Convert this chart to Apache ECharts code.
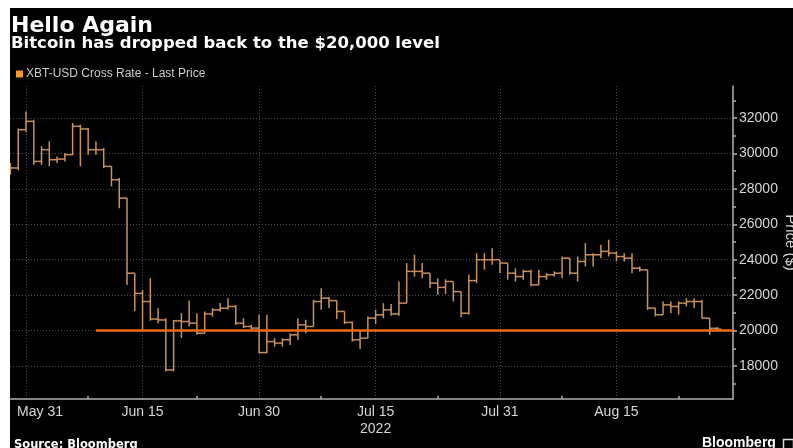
<!DOCTYPE html>
<html><head><meta charset="utf-8">
<script src="https://cdn.jsdelivr.net/npm/echarts@6/dist/echarts.min.js"></script>
<style>
html,body{margin:0;padding:0;background:#fff;width:793px;height:448px;overflow:hidden}
#c{position:absolute;left:10px;top:8px;width:783px;height:440px;background:#000}
</style></head><body><div id="c"></div>
<script>
const SERIES_NAME = 'XBT-USD Cross Rate - Last Price';
const DATES = [
 '2022-05-29','2022-05-30','2022-05-31',
 '2022-06-01','2022-06-02','2022-06-03','2022-06-04','2022-06-05','2022-06-06','2022-06-07','2022-06-08','2022-06-09','2022-06-10',
 '2022-06-11','2022-06-12','2022-06-13','2022-06-14','2022-06-15','2022-06-16','2022-06-17','2022-06-18','2022-06-19','2022-06-20',
 '2022-06-21','2022-06-22','2022-06-23','2022-06-24','2022-06-25','2022-06-26','2022-06-27','2022-06-28','2022-06-29','2022-06-30',
 '2022-07-01','2022-07-02','2022-07-03','2022-07-04','2022-07-05','2022-07-06','2022-07-07','2022-07-08','2022-07-09','2022-07-10',
 '2022-07-11','2022-07-12','2022-07-13','2022-07-14','2022-07-15','2022-07-16','2022-07-17','2022-07-18','2022-07-19','2022-07-20',
 '2022-07-21','2022-07-22','2022-07-23','2022-07-24','2022-07-25','2022-07-26','2022-07-27','2022-07-28','2022-07-29','2022-07-30','2022-07-31',
 '2022-08-01','2022-08-02','2022-08-03','2022-08-04','2022-08-05','2022-08-06','2022-08-07','2022-08-08','2022-08-09','2022-08-10',
 '2022-08-11','2022-08-12','2022-08-13','2022-08-14','2022-08-15','2022-08-16','2022-08-17','2022-08-18','2022-08-19','2022-08-20',
 '2022-08-21','2022-08-22','2022-08-23','2022-08-24','2022-08-25','2022-08-26','2022-08-27','2022-08-28'
];
const OPEN = [
 29000,29180,31340,
 31810,29550,30210,29645,29680,29930,31530,31380,30210,30210,
 29270,28515,27480,23240,22100,21640,20650,20600,17780,20550,
 20510,20420,19850,20940,21170,21260,21360,20420,20230,20140,
 18760,19380,19290,19480,19760,20320,20230,21640,21830,21690,
 21080,20460,19480,19570,20700,20890,21170,20940,21550,23340,
 23340,23240,22680,22440,22770,22200,20980,22820,24000,24000,24000,
 23810,23240,23050,23340,22580,23050,23150,23240,24090,23240,
 23900,24280,24280,24470,24370,24180,24090,23520,23430,21270,
 20890,21450,21360,21550,21640,21640,20700,20130
];
const HIGH = [
 29460,31400,32370,
 31900,30400,30680,29830,30020,31720,31620,31430,30680,30300,
 29270,28610,27480,23240,22300,22960,21260,20700,20600,20980,
 21680,20980,21080,21260,21550,21830,21450,20700,20320,20890,
 20890,19570,19570,19850,20700,20610,21740,22390,21900,21700,
 21080,20510,20040,20790,21170,21550,21500,22770,23810,24280,
 23810,23240,22960,22900,22770,22200,23150,24370,24370,24650,24000,
 23810,23520,23430,23430,23430,23240,23340,24180,24090,24180,
 24940,24370,24840,25130,24470,24370,24370,23620,23430,21270,
 21640,21640,21640,21830,21830,21740,20700,20200
];
const LOW = [
 28800,29050,31200,
 29360,29360,29270,29460,29550,29900,29270,29930,29930,29180,
 28140,26910,22580,21100,20040,20560,20420,17690,17700,19580,
 20230,19760,19850,20790,21080,21170,20320,20140,20040,18720,
 18720,19100,19100,19190,19480,19850,20230,21170,21270,20650,
 20370,19380,18960,19570,20370,20700,20840,20840,21550,23050,
 22960,22400,22020,22070,21640,20750,20890,22680,23430,23710,23240,
 22870,22770,22870,22490,22580,22870,23050,22960,23150,22770,
 23620,23620,24090,24180,23900,23900,23240,23340,21170,20800,
 20890,20980,20890,21360,21270,20700,19760,19950
];
const CLOSE = [
 29180,31340,31810,
 29550,30210,29645,29680,29930,31530,31380,30210,30210,29270,
 28515,27480,23240,22100,21640,20650,20600,17780,20550,20510,
 20420,19850,20940,21170,21260,21360,20420,20230,20140,18760,
 19380,19290,19480,19760,20320,20230,21640,21830,21690,21080,
 20460,19480,19570,20700,20890,21170,20940,21550,23340,23340,
 23240,22680,22440,22770,22200,20980,22820,24000,24000,24000,23810,
 23240,23050,23340,22580,23050,23150,23240,24090,23240,23900,
 24280,24280,24470,24370,24180,24090,23520,23430,21270,20890,
 21450,21360,21550,21640,21640,20700,20130,20080
];
const LEVEL = 20000;
const LEVEL_START = '2022-06-09';
const X_TICKS = ['2022-05-31','2022-06-15','2022-06-30','2022-07-15','2022-07-31','2022-08-15'];
const X_TICK_LABELS = ['May 31','Jun 15','Jun 30','Jul 15\n2022','Jul 31','Aug 15'];
const X_MINOR_TICKS = ['2022-06-08','2022-06-22','2022-07-08','2022-07-23','2022-08-08','2022-08-23'];
const Y_TICKS = [18000,20000,22000,24000,26000,28000,30000,32000];
const Y_MINOR_TICKS = [17000,19000,21000,23000,25000,27000,29000,31000,33000];

const DAY = 86400000;
function toTs(s){ const p = s.split('-'); return Date.UTC(+p[0], +p[1]-1, +p[2]); }
const X_MIN = toTs('2022-05-31') - 2.06 * DAY;
const X_MAX = toTs('2022-08-30');
const Y_MIN = 16138, Y_MAX = 33806;

const BAR_COLOR = '#c8925a';
const ohlc = DATES.map((d, i) => [toTs(d), OPEN[i], HIGH[i], LOW[i], CLOSE[i]]);
const labelMap = {};
X_TICKS.forEach((d, i) => { labelMap[toTs(d)] = X_TICK_LABELS[i]; });

const chart = echarts.init(document.getElementById('c'), null, {renderer: 'canvas'});
const labelFont = 'Liberation Sans, Arial, sans-serif';
chart.setOption({
  animation: false,
  backgroundColor: '#000',
  title: [
    {text: 'Hello Again', left: 1, top: 7, padding: 0,
     textStyle: {fontFamily: 'DejaVu Sans', fontWeight: 'bold', fontSize: 22, color: '#ffffff'}},
    {text: 'Bitcoin has dropped back to the $20,000 level', left: 1, top: 27.5, padding: 0,
     textStyle: {fontFamily: 'DejaVu Sans', fontWeight: 'bold', fontSize: 16.5, color: '#ffffff'}}
  ],
  legend: {
    left: 6, top: 60, padding: 0, icon: 'rect', itemWidth: 7, itemHeight: 7,
    textStyle: {color: '#cccccc', fontSize: 12, fontFamily: labelFont, padding: [0,0,0,-2]},
    data: [{name: SERIES_NAME, itemStyle: {color: '#f39a2a'}}]
  },
  grid: {left: 0, right: 60, top: 78, bottom: 49, containLabel: false, outerBoundsMode: 'none'},
  xAxis: [
    {type: 'value', min: X_MIN, max: X_MAX, scale: true,
     axisLine: {show: true, onZero: false, lineStyle: {color: '#b0b0b0', width: 1.5}},
     axisTick: {show: false, customValues: X_TICKS.map(toTs)},
     axisLabel: {customValues: X_TICKS.map(toTs), color: '#d6d6d6', fontSize: 14, fontFamily: labelFont,
       margin: 5, lineHeight: 17, showMinLabel: true, showMaxLabel: true,
       formatter: function (v) {
         const t = labelMap[v] || '';
         return t === 'May 31' ? '{first|' + t + '}' : t;
       },
       rich: {first: {padding: [0,0,0,28], color: '#d6d6d6', fontSize: 14, fontFamily: labelFont}}},
     splitLine: {show: true, lineStyle: {color: '#4a4a4a', type: [1,2], width: 1}}},
    {type: 'value', min: X_MIN, max: X_MAX, scale: true, position: 'bottom',
     axisLine: {show: false, onZero: false}, axisLabel: {show: false}, splitLine: {show: false},
     axisTick: {show: true, inside: true, length: 3, customValues: X_MINOR_TICKS.map(toTs),
       lineStyle: {color: '#b0b0b0', width: 1.5}}}
  ],
  yAxis: [
    {type: 'value', position: 'right', min: Y_MIN, max: Y_MAX,
     name: 'Price ($)', nameLocation: 'middle', nameRotate: -90, nameGap: 50, nameMoveOverlap: false,
     nameTextStyle: {color: '#d6d6d6', fontSize: 15, fontFamily: labelFont},
     axisLine: {show: true, lineStyle: {color: '#b0b0b0', width: 1.5}},
     axisTick: {show: true, length: 4, customValues: Y_TICKS, lineStyle: {color: '#b0b0b0', width: 1.5}},
     axisLabel: {customValues: Y_TICKS, color: '#d6d6d6', fontSize: 14, fontFamily: labelFont, margin: 6,
       formatter: function (v) { return String(v); }},
     splitLine: {show: true, lineStyle: {color: '#4a4a4a', type: [1,2], width: 1}}},
    {type: 'value', position: 'right', min: Y_MIN, max: Y_MAX,
     axisLine: {show: false}, axisLabel: {show: false}, splitLine: {show: false},
     axisTick: {show: true, length: 3, customValues: Y_MINOR_TICKS, lineStyle: {color: '#b0b0b0', width: 1.5}}}
  ],
  series: [
    {name: SERIES_NAME, type: 'custom', xAxisIndex: 0, yAxisIndex: 0, clip: true,
     itemStyle: {color: BAR_COLOR},
     encode: {x: 0, y: [1, 2, 3, 4]},
     data: ohlc,
     renderItem: function (params, api) {
       const x = api.value(0);
       const o = api.coord([x, api.value(1)]);
       const h = api.coord([x, api.value(2)]);
       const l = api.coord([x, api.value(3)]);
       const c = api.coord([x, api.value(4)]);
       const w = api.coord([x + DAY / 2, api.value(1)])[0] - o[0];
       const st = {stroke: BAR_COLOR, lineWidth: 1.5, fill: null};
       return {type: 'group', children: [
         {type: 'line', shape: {x1: h[0], y1: h[1], x2: l[0], y2: l[1]}, style: st},
         {type: 'line', shape: {x1: o[0] - w, y1: o[1], x2: o[0], y2: o[1]}, style: st},
         {type: 'line', shape: {x1: c[0], y1: c[1], x2: c[0] + w, y2: c[1]}, style: st}
       ]};
     }},
    {name: 'level', type: 'line', xAxisIndex: 0, yAxisIndex: 0, symbol: 'none', silent: true,
     lineStyle: {color: '#f26a13', width: 2.5}, z: 3,
     data: [[toTs(LEVEL_START), LEVEL], [X_MAX, LEVEL]]}
  ],
  graphic: [
    {type: 'text', left: 4, top: 431, style: {text: 'Source: Bloomberg', fill: '#ffffff',
      font: 'bold 11.5px "DejaVu Sans"'}},
    {type: 'text', left: 692, top: 428, style: {text: 'Bloomberg', fill: '#ffffff',
      font: 'bold 14px "Liberation Sans"'}},
    {type: 'rect', left: 771, top: 429, shape: {width: 10, height: 12},
     style: {fill: null, stroke: '#dddddd', lineWidth: 1.5}}
  ]
});
</script></body></html>
